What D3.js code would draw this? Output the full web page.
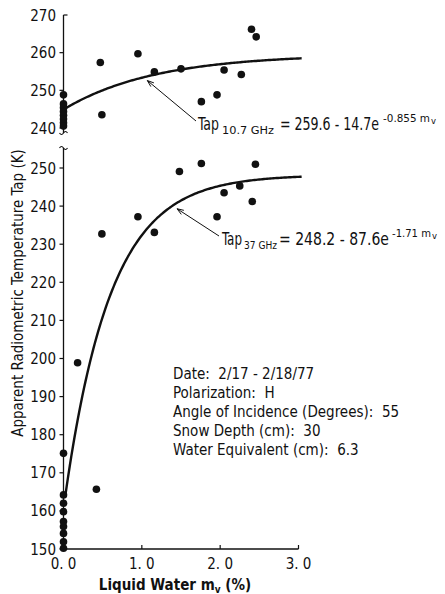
<!DOCTYPE html>
<html>
<head>
<meta charset="utf-8">
<script src="https://cdn.jsdelivr.net/npm/d3@7"></script>
<style>
  body { margin: 0; background: #fff; }
  svg { display: block; }
  text { font-family: "Liberation Sans Narrow", "DejaVu Sans Condensed", "Liberation Sans", sans-serif; fill: #111; }
</style>
</head>
<body>
<svg id="chart" width="445" height="594"></svg>
<script>
// 10.7 GHz points (upper panel)
const upperX = [0, 0, 0, 0, 0, 0, 0, 0, 0.47, 0.49, 0.95, 1.16, 1.50, 1.76, 1.96, 2.05, 2.27, 2.40, 2.46];
const upperY = [248.8, 246.4, 245.4, 244.4, 243.4, 242.4, 241.4, 240.5, 257.4, 243.5, 259.7, 254.9, 255.7, 247.0, 248.8, 255.4, 254.2, 266.2, 264.2];

// 37 GHz points (lower panel)
const lowerX = [0, 0, 0, 0, 0, 0, 0, 0, 0, 0.18, 0.42, 0.49, 0.95, 1.16, 1.48, 1.76, 1.96, 2.05, 2.25, 2.41, 2.45];
const lowerY = [175.1, 164.2, 162.0, 159.8, 157.2, 155.9, 154.1, 151.9, 150.2, 198.9, 165.7, 232.7, 237.2, 233.1, 249.1, 251.2, 237.2, 243.5, 245.3, 241.2, 251.0];

// fit coefficients printed on the chart: a - b*exp(-c*mv)
const fit10 = [259.6, 14.7, 0.855];
const fit37 = [248.2, 87.6, 1.71];

const upperTicks = [240, 250, 260, 270];
const lowerTicks = [150, 160, 170, 180, 190, 200, 210, 220, 230, 240, 250];
const xTicks = [0, 1, 2, 3];
const infoLines = [
  "Date:  2/17 - 2/18/77",
  "Polarization:  H",
  "Angle of Incidence (Degrees):  55",
  "Snow Depth (cm):  30",
  "Water Equivalent (cm):  6.3"
];

const svg = d3.select("#chart");

const x = d3.scaleLinear().domain([0, 3]).range([63.5, 298.5]);
const yUp = d3.scaleLinear().domain([240, 270]).range([128, 15]);
const yLo = d3.scaleLinear().domain([150, 250]).range([549, 168]);

//Axes
const axisG = svg.append("g").attr("stroke", "#111").attr("fill", "none");
axisG.append("line").attr("x1", x(0)).attr("x2", x(0)).attr("y1", yUp(270)).attr("y2", 133).attr("stroke-width", 1.3);
axisG.append("line").attr("x1", x(0)).attr("x2", x(0)).attr("y1", 148).attr("y2", yLo(150)).attr("stroke-width", 1.3);
axisG.append("line").attr("x1", x(0)).attr("x2", x(3)).attr("y1", yLo(150)).attr("y2", yLo(150)).attr("stroke-width", 1.3);

// break marks
axisG.append("path")
  .attr("d", `M${x(0) - 4},133 q2,3 4,0 q2,-3 4,0`)
  .attr("stroke-width", 1.2);
axisG.append("path")
  .attr("d", `M${x(0) - 4},148 q2,-3 4,0 q2,3 4,0`)
  .attr("stroke-width", 1.2);

upperTicks.forEach(t => {
  const dir = t === 270 ? 4 : -4;
  axisG.append("line").attr("x1", x(0)).attr("x2", x(0) + dir).attr("y1", yUp(t)).attr("y2", yUp(t)).attr("stroke-width", 1.2);
});
lowerTicks.forEach(t => {
  axisG.append("line").attr("x1", x(0)).attr("x2", x(0) - 4).attr("y1", yLo(t)).attr("y2", yLo(t)).attr("stroke-width", 1.2);
});
xTicks.slice(1).forEach(t => {
  axisG.append("line").attr("x1", x(t)).attr("x2", x(t)).attr("y1", yLo(150)).attr("y2", yLo(150) - 4).attr("stroke-width", 1.2);
});

svg.append("g").selectAll("text").data(upperTicks).join("text")
  .attr("x", 56).attr("y", d => yUp(d) + 5.5)
  .attr("text-anchor", "end").attr("font-size", 15)
  .text(d => d);
svg.append("g").selectAll("text").data(lowerTicks).join("text")
  .attr("x", 56).attr("y", d => yLo(d) + 5.5)
  .attr("text-anchor", "end").attr("font-size", 15)
  .text(d => d);
svg.append("g").selectAll("text").data(xTicks).join("text")
  .attr("x", d => x(d)).attr("y", 569)
  .attr("text-anchor", "middle").attr("font-size", 15)
  .text(d => d.toFixed(1).replace(".", ". "));

//Axis titles
svg.append("text")
  .attr("transform", "translate(23,293) rotate(-90)")
  .attr("text-anchor", "middle").attr("font-size", 15)
  .text("Apparent Radiometric Temperature Tap (K)");

const xt = svg.append("text")
  .attr("x", 175).attr("y", 590)
  .attr("text-anchor", "middle").attr("font-size", 15).attr("font-weight", "bold");
xt.append("tspan").text("Liquid Water m");
xt.append("tspan").attr("font-size", 10).attr("dy", 3).text("v");
xt.append("tspan").attr("dy", -3).text(" (%)");

//Fit curves
const mv = d3.range(0, 3.05, 0.02);
const line10 = d3.line().x(d => x(d)).y(d => yUp(fit10[0] - fit10[1] * Math.exp(-fit10[2] * d)));
const line37 = d3.line().x(d => x(d)).y(d => yLo(fit37[0] - fit37[1] * Math.exp(-fit37[2] * d)));
svg.append("path").datum(mv).attr("d", line10).attr("fill", "none").attr("stroke", "#111").attr("stroke-width", 2.4);
svg.append("path").datum(mv.filter(d => d >= 0.02)).attr("d", line37).attr("fill", "none").attr("stroke", "#111").attr("stroke-width", 2.4);

//Points
svg.append("g").selectAll("circle").data(upperX).join("circle")
  .attr("cx", d => x(d)).attr("cy", (d, i) => yUp(upperY[i])).attr("r", 3.8).attr("fill", "#111");
svg.append("g").selectAll("circle").data(lowerX).join("circle")
  .attr("cx", d => x(d)).attr("cy", (d, i) => yLo(lowerY[i])).attr("r", 3.8).attr("fill", "#111");

//Leader lines with arrowheads
function leader(x1, y1, x2, y2) {
  svg.append("line").attr("x1", x1).attr("y1", y1).attr("x2", x2).attr("y2", y2)
    .attr("stroke", "#111").attr("stroke-width", 1);
  const a = Math.atan2(y1 - y2, x1 - x2);
  const len = 7, spread = 0.35;
  const p = [
    [x1 - len * Math.cos(a - spread), y1 - len * Math.sin(a - spread)],
    [x1, y1],
    [x1 - len * Math.cos(a + spread), y1 - len * Math.sin(a + spread)]
  ];
  svg.append("path").attr("d", d3.line()(p)).attr("fill", "none").attr("stroke", "#111").attr("stroke-width", 1);
}
leader(x(1.07), yUp(252.6), 196, 121);
leader(x(1.45), yLo(239.3), 219, 236);

//Equations - each piece squeezed to its measured width
function equation(py, parts) {
  const g = svg.append("g");
  parts.forEach(p => {
    g.append("text").attr("x", p.x).attr("y", py + p.dy)
      .attr("font-size", p.size)
      .attr("textLength", p.w).attr("lengthAdjust", "spacingAndGlyphs")
      .text(p.text);
  });
}
equation(130, [
  { text: "Tap", x: 198, dy: 0, size: 17, w: 21 },
  { text: "10.7 GHz", x: 222, dy: 4, size: 11, w: 52 },
  { text: "= 259.6 - 14.7e", x: 280, dy: 0, size: 17, w: 99 },
  { text: "-0.855 m", x: 383, dy: -8, size: 10, w: 47 },
  { text: "v", x: 431, dy: -6, size: 8, w: 5 }
]);
equation(245, [
  { text: "Tap", x: 222, dy: 0, size: 17, w: 20 },
  { text: "37 GHz", x: 244, dy: 4, size: 11, w: 33 },
  { text: "= 248.2 - 87.6e", x: 279, dy: 0, size: 17, w: 110 },
  { text: "-1.71 m", x: 392, dy: -8, size: 10, w: 39 },
  { text: "v", x: 432, dy: -6, size: 8, w: 5 }
]);

//Info block
svg.append("g").selectAll("text").data(infoLines).join("text")
  .attr("x", 173).attr("y", (d, i) => 378.5 + i * 19.2)
  .attr("font-size", 15)
  .attr("xml:space", "preserve")
  .style("white-space", "pre")
  .text(d => d);
</script>
</body>
</html>
